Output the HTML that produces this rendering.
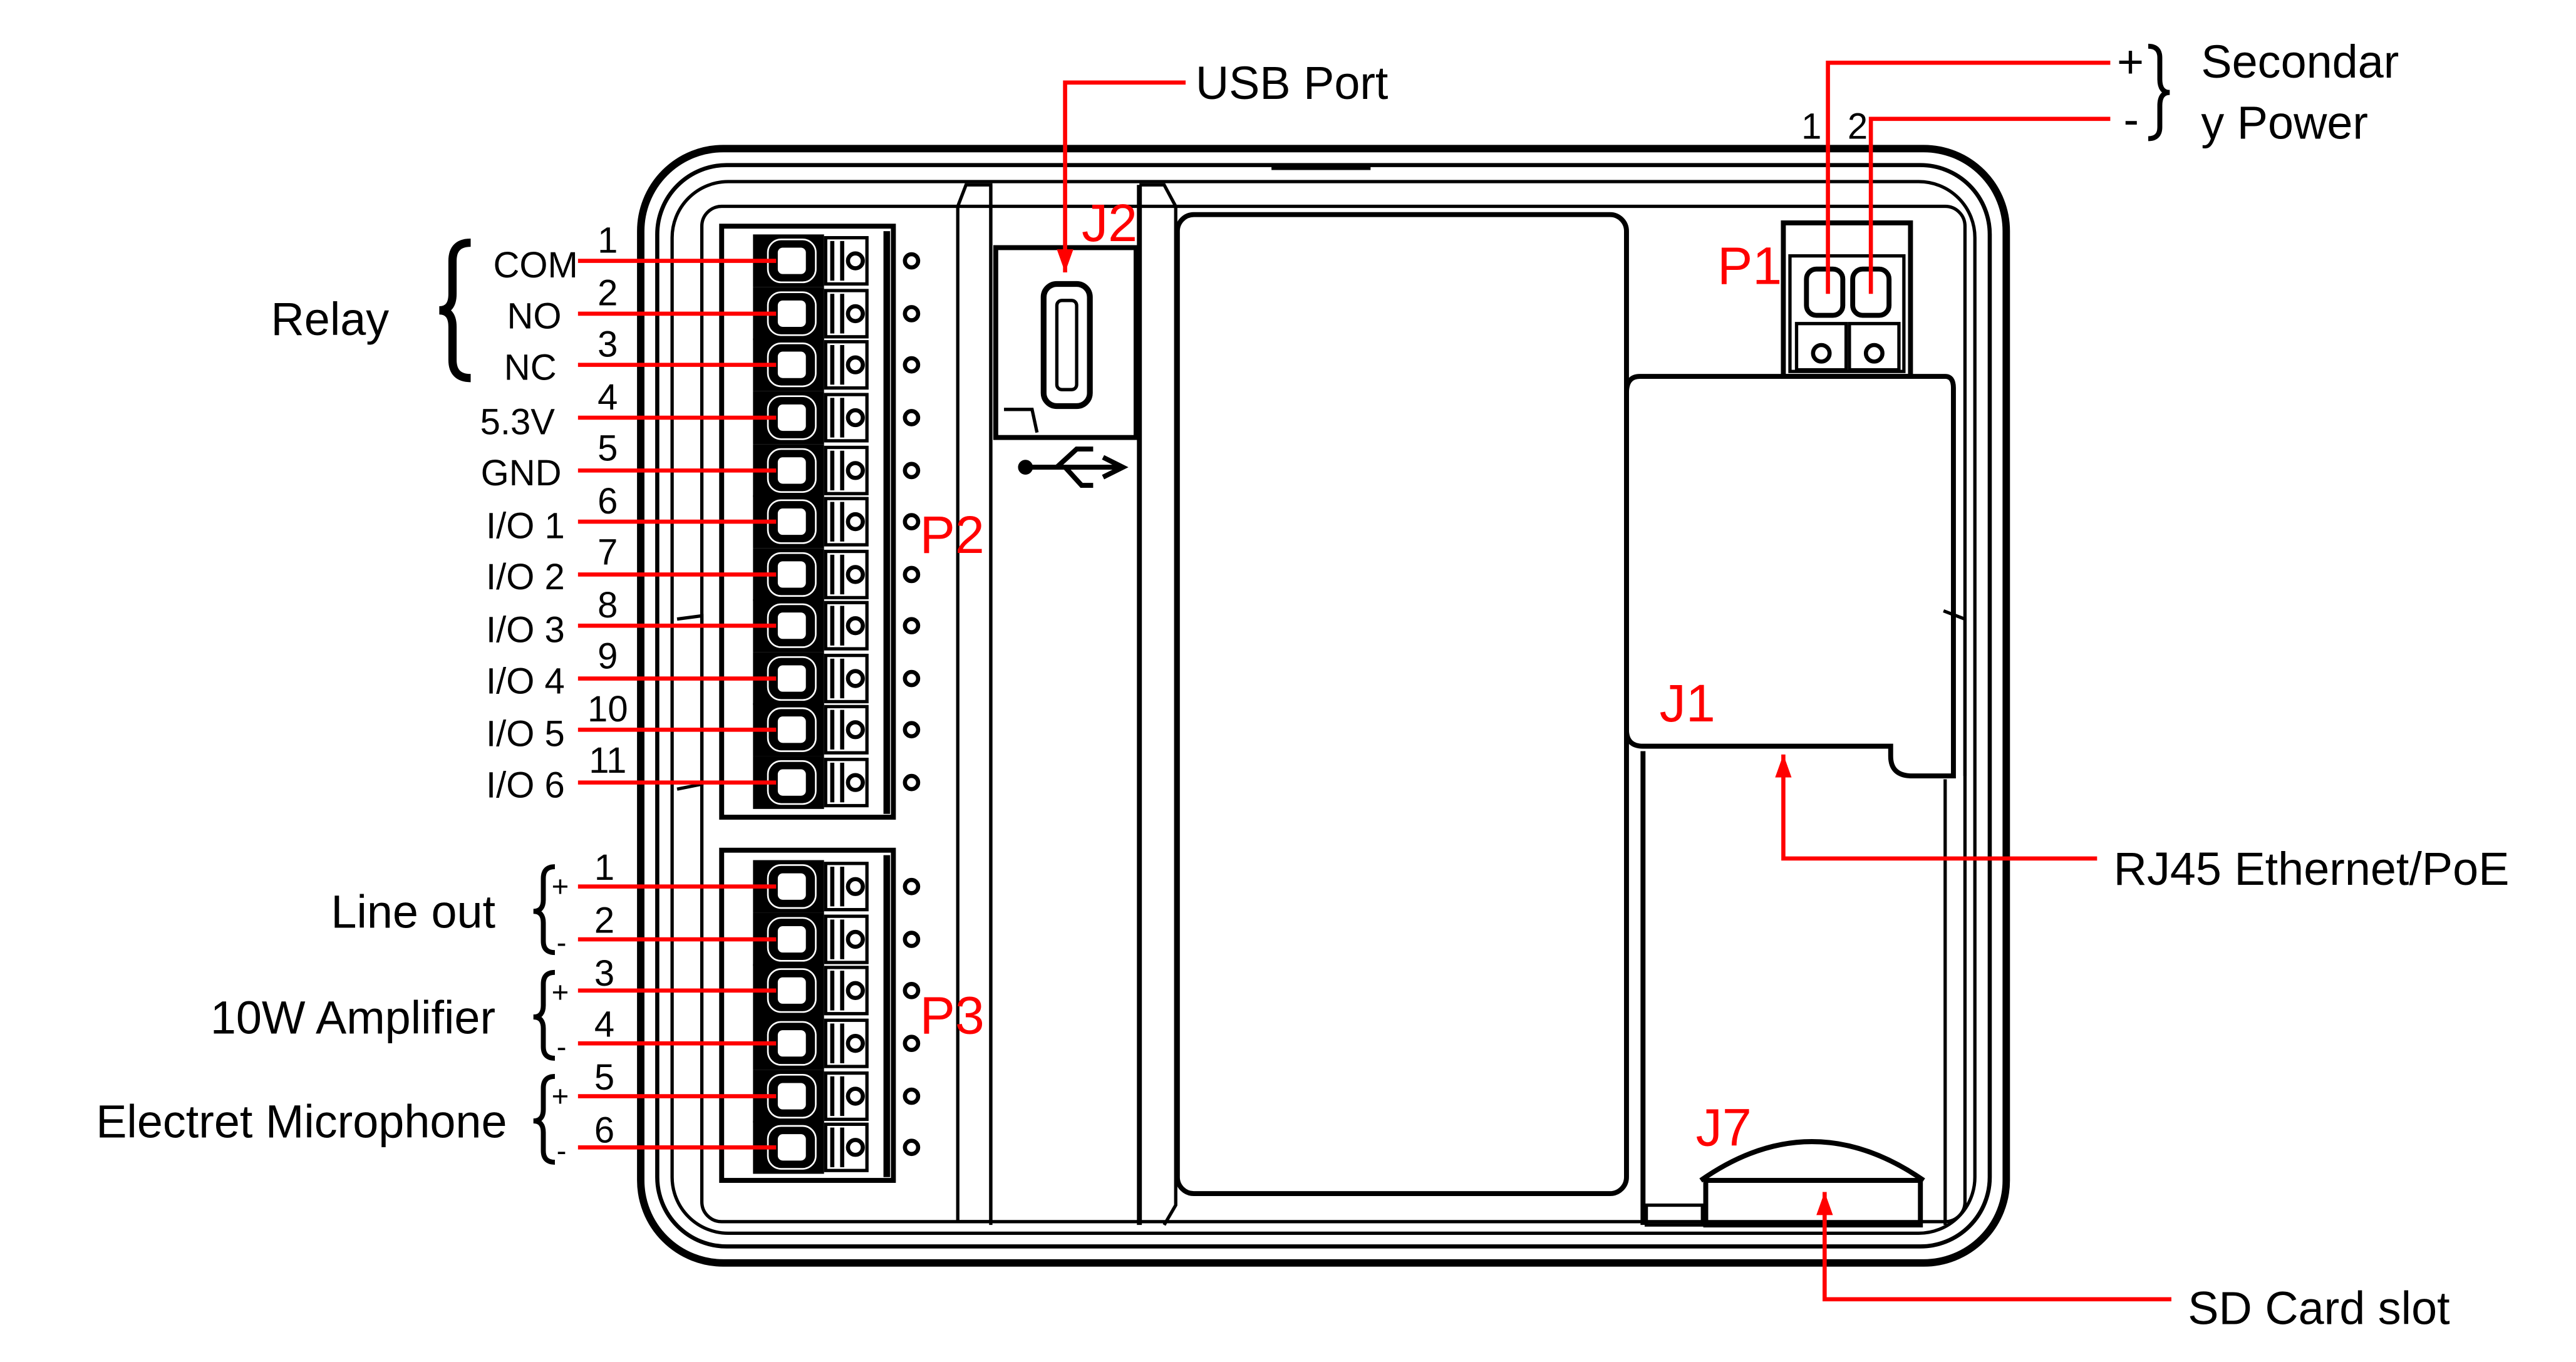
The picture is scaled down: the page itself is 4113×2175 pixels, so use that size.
<!DOCTYPE html>
<html><head><meta charset="utf-8"><style>html,body{margin:0;padding:0;background:#fff}svg{display:block}</style></head>
<body>
<svg width="4113" height="2175" viewBox="0 0 1560 825" xmlns="http://www.w3.org/2000/svg" font-family="Liberation Sans, Arial, sans-serif">
<defs>
<g id="cell">
<rect x="456" y="-16" width="43" height="32" fill="#000"/>
<rect x="465" y="-13" width="29" height="26" rx="8" fill="#000" stroke="#fff" stroke-width="1"/>
<rect x="470" y="-9" width="19" height="18" rx="4" fill="#fff" stroke="#000" stroke-width="2"/>
<rect x="500" y="-14" width="25" height="28" fill="#fff" stroke="#000" stroke-width="2"/>
<line x1="504" y1="-12" x2="504" y2="12" stroke="#000" stroke-width="2.5"/>
<line x1="510" y1="-12" x2="510" y2="12" stroke="#000" stroke-width="2.5"/>
<circle cx="518" cy="0" r="4.5" fill="#fff" stroke="#000" stroke-width="2.5"/>
<circle cx="552" cy="0" r="4" fill="#fff" stroke="#000" stroke-width="2.5"/>
</g>
<marker id="ar" markerWidth="14" markerHeight="10" refX="14" refY="5" orient="auto" markerUnits="userSpaceOnUse"><path d="M0,0 L14,5 L0,10Z" fill="red"/></marker>
</defs>
<g fill="none" stroke="#000">
<rect x="388" y="90" width="827" height="675" rx="50" stroke-width="4.5"/>
<rect x="398" y="100" width="807" height="655" rx="42" stroke-width="2.5"/>
<rect x="407" y="110" width="789" height="637" rx="34" stroke-width="2"/>
<rect x="425" y="125" width="765" height="615" rx="12" stroke-width="2"/>
<line x1="770" y1="102" x2="830" y2="102" stroke-width="2"/>
<rect x="437" y="137" width="104" height="358" stroke-width="3"/>
<rect x="437" y="515" width="104" height="200" stroke-width="3"/>
<line x1="537" y1="140" x2="537" y2="493" stroke-width="4"/>
<line x1="537" y1="518" x2="537" y2="713" stroke-width="4"/>
<path d="M580,125 L585,112 L600,112 L600,740 L580,740 M580,125 L580,740" stroke-width="2"/>
<line x1="600" y1="112" x2="600" y2="742" stroke-width="2"/>
<line x1="690" y1="112" x2="690" y2="742" stroke-width="3"/>
<path d="M690,112 L705,112 L712,125 L712,730 L705,742" stroke-width="2"/>
<rect x="603" y="150" width="85" height="115" stroke-width="3"/>
<rect x="632" y="172" width="28" height="74" rx="8" stroke-width="3.5"/>
<rect x="640" y="182" width="12" height="54" rx="3" stroke-width="2"/>
<path d="M608,248 L625,248 L628,262" stroke-width="2"/>
<path d="M620,283 L680,283 M668,277 L680,283 L668,289 M640,283 L652,272 L662,272 M645,283 L655,294 L662,294" stroke-width="3"/>
<circle cx="621" cy="283" r="4" fill="#000"/>
<rect x="713" y="130" width="272" height="593" rx="10" stroke-width="3"/>
<rect x="1080" y="135" width="77" height="93" stroke-width="3"/>
<rect x="1084" y="155" width="69" height="70" stroke-width="2"/>
<rect x="1094" y="163" width="22" height="28" rx="6" stroke-width="3"/>
<rect x="1122" y="163" width="22" height="28" rx="6" stroke-width="3"/>
<rect x="1088" y="196" width="30" height="28" stroke-width="2"/>
<rect x="1120" y="196" width="30" height="28" stroke-width="2"/>
<circle cx="1103" cy="214" r="5" stroke-width="2.5"/>
<circle cx="1135" cy="214" r="5" stroke-width="2.5"/>
<path d="M993,228 L1178,228 Q1183,228 1183,235 L1183,470 L1158,470 Q1145,470 1145,458 L1145,452 L995,452 Q985,452 985,442 L985,238 Q985,228 993,228Z" stroke-width="3"/>
<line x1="995" y1="455" x2="995" y2="742" stroke-width="3"/>
<line x1="1178" y1="472" x2="1178" y2="742" stroke-width="2"/>
<path d="M1177,370 L1190,375 L1190,470" stroke-width="2"/>
<path d="M410,375 L425,373 L425,475 L410,478" stroke-width="2"/>
<path d="M1030,715 Q1097,668 1165,715" stroke-width="3"/>
<rect x="1033" y="715" width="130" height="27" stroke-width="3"/>
<rect x="997" y="730" width="34" height="12" stroke-width="2"/>
<path d="M285,147 Q274,147 274,158 L274,178 Q274,188 266,188 Q274,188 274,198 L274,218 Q274,229 285,229" stroke-width="5"/>
<g stroke-width="3">
<path d="M336,525 Q329,525 329,532 L329,545 Q329,552 323,552 Q329,552 329,559 L329,570 Q329,577 336,577"/>
<path d="M336,589 Q329,589 329,596 L329,609 Q329,616 323,616 Q329,616 329,623 L329,634 Q329,641 336,641"/>
<path d="M336,652 Q329,652 329,659 L329,672 Q329,679 323,679 Q329,679 329,686 L329,697 Q329,704 336,704"/>
<path d="M1301,28 Q1308,28 1308,35 L1308,48 Q1308,56 1314,56 Q1308,56 1308,64 L1308,77 Q1308,84 1301,84"/>
</g>
</g>
<use href="#cell" y="158"/><use href="#cell" y="190"/><use href="#cell" y="221"/><use href="#cell" y="253"/><use href="#cell" y="285"/><use href="#cell" y="316"/><use href="#cell" y="348"/><use href="#cell" y="379"/><use href="#cell" y="411"/><use href="#cell" y="442"/><use href="#cell" y="474"/>
<use href="#cell" y="537"/><use href="#cell" y="569"/><use href="#cell" y="600"/><use href="#cell" y="632"/><use href="#cell" y="664"/><use href="#cell" y="695"/>
<g stroke="red" stroke-width="2.5" fill="none">
<path d="M350,158H470M350,190H470M350,221H470M350,253H470M350,285H470M350,316H470M350,348H470M350,379H470M350,411H470M350,442H470M350,474H470"/>
<path d="M350,537H470M350,569H470M350,600H470M350,632H470M350,664H470M350,695H470"/>
<path d="M718,50 H645 V165" marker-end="url(#ar)"/>
<path d="M1278,38 H1107 V178"/>
<path d="M1278,72 H1133 V178"/>
<path d="M1270,520 H1080 V457" marker-end="url(#ar)"/>
<path d="M1315,787 H1105 V722" marker-end="url(#ar)"/>
</g>
<g font-size="22" fill="#000">
<g text-anchor="end">
<text x="350" y="168">COM</text><text x="340" y="199">NO</text><text x="337" y="230">NC</text>
<text x="336" y="263">5.3V</text><text x="340" y="294">GND</text>
<text x="342" y="326">I/O 1</text><text x="342" y="357">I/O 2</text><text x="342" y="389">I/O 3</text><text x="342" y="420">I/O 4</text><text x="342" y="452">I/O 5</text><text x="342" y="483">I/O 6</text>
</g>
<g text-anchor="middle">
<text x="368" y="153">1</text><text x="368" y="185">2</text><text x="368" y="216">3</text><text x="368" y="248">4</text><text x="368" y="279">5</text><text x="368" y="311">6</text><text x="368" y="342">7</text><text x="368" y="374">8</text><text x="368" y="405">9</text><text x="368" y="437">10</text><text x="368" y="468">11</text>
<text x="366" y="533">1</text><text x="366" y="565">2</text><text x="366" y="597">3</text><text x="366" y="628">4</text><text x="366" y="660">5</text><text x="366" y="692">6</text>
<text x="1097" y="84">1</text><text x="1125" y="84">2</text>
</g>
<g font-size="18"><text x="334" y="543">+</text><text x="337" y="577">-</text><text x="334" y="607">+</text><text x="337" y="640">-</text><text x="334" y="670">+</text><text x="337" y="703">-</text></g>
</g>
<g font-size="28" fill="#000">
<text x="164" y="203">Relay</text>
<text x="300" y="562" text-anchor="end">Line out</text>
<text x="300" y="626" text-anchor="end">10W Amplifier</text>
<text x="307" y="689" text-anchor="end">Electret Microphone</text>
<text x="724" y="60">USB Port</text>
<text x="1333" y="47">Secondar</text>
<text x="1333" y="84">y Power</text>
<text x="1282" y="47">+</text><text x="1286" y="82">-</text>
<text x="1280" y="536">RJ45 Ethernet/PoE</text>
<text x="1325" y="802">SD Card slot</text>
</g>
<g font-size="32" fill="red">
<text x="655" y="146">J2</text><text x="557" y="335">P2</text><text x="557" y="626">P3</text><text x="1040" y="172">P1</text><text x="1005" y="437">J1</text><text x="1027" y="694">J7</text>
</g>
</svg>
</body></html>
